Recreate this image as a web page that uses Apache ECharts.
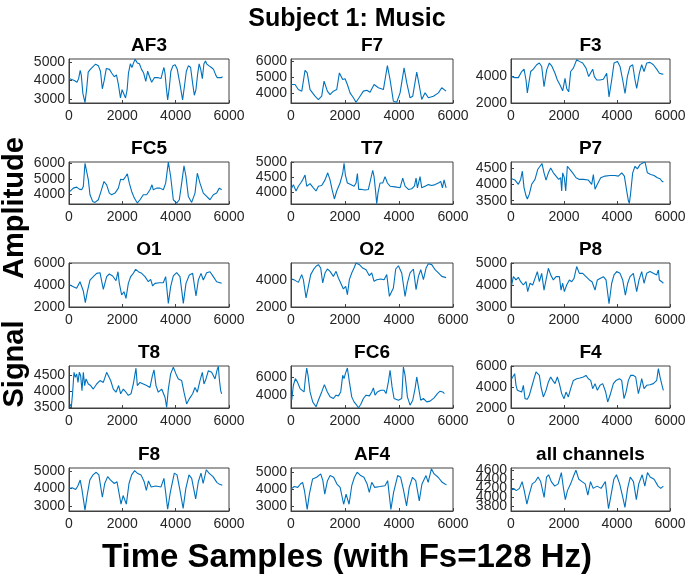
<!DOCTYPE html>
<html><head><meta charset="utf-8">
<script src="https://cdn.jsdelivr.net/npm/echarts@6/dist/echarts.min.js"></script>
<style>html,body{margin:0;padding:0;background:#fff}#c{width:694px;height:582px}</style>
</head><body><div id="c"></div>
<script>
var channelNames = ["AF3","F7","F3","FC5","T7","P7","O1","O2","P8","T8","FC6","F4","F8","AF4","all channels"];
var xTicks = [0,2000,4000,6000];

var AF3 = [[0,4100],[100,4050],[200,4000],[300,3900],[360,4100],[420,4550],[460,4300],[520,3300],[600,2800],[660,3500],[720,4450],[800,4600],[900,4750],[1000,4880],[1100,4800],[1180,4500],[1250,3550],[1320,4000],[1400,4650],[1450,4750],[1520,4600],[1600,4400],[1700,4200],[1780,4300],[1850,3800],[1930,3050],[1990,3500],[2050,3600],[2120,3050],[2180,3500],[2230,4400],[2300,4900],[2360,4700],[2420,4950],[2480,5150],[2560,4950],[2640,4900],[2720,4600],[2800,4400],[2880,3950],[2950,4500],[3020,4200],[3100,3900],[3200,4150],[3350,4150],[3450,4100],[3520,4500],[3560,4700],[3600,4400],[3650,3600],[3700,2950],[3760,3600],[3820,4500],[3900,4800],[3980,4850],[4060,4600],[4150,3900],[4260,2950],[4330,3700],[4400,4500],[4480,4800],[4560,4700],[4640,3800],[4700,3200],[4760,3500],[4820,4300],[4880,4900],[4940,4600],[5000,4100],[5060,4900],[5120,5050],[5160,4900],[5240,4800],[5340,4700],[5420,4600],[5500,4300],[5560,4150],[5620,4200],[5700,4150],[5760,4200]];
var F7 = [[0,4540],[150,4540],[270,4220],[400,4120],[520,5440],[600,5270],[705,4220],[890,3800],[1014,3590],[1137,3800],[1224,4750],[1347,4120],[1446,3900],[1570,4120],[1693,4220],[1792,5270],[1915,4850],[2002,4900],[2088,4540],[2187,4010],[2311,3700],[2409,3420],[2558,3800],[2681,4120],[2805,4180],[2928,4050],[3076,4540],[3237,4330],[3422,4220],[3570,5740],[3669,4850],[3792,3480],[3916,3420],[4040,4010],[4188,5590],[4287,4640],[4410,3700],[4509,3800],[4657,5320],[4756,4430],[4842,3590],[4966,4010],[5089,3700],[5274,3800],[5460,4010],[5583,4330],[5645,4220],[5744,4120]];
var F3 = [[26,3950],[151,3875],[277,3875],[403,4325],[491,4500],[567,3700],[617,2750],[692,3700],[743,4325],[843,4500],[969,4825],[1070,4950],[1158,4700],[1246,3200],[1347,4450],[1447,4950],[1535,4750],[1661,4200],[1749,3700],[1850,3325],[1950,2900],[2039,3825],[2101,3075],[2177,2825],[2252,4325],[2353,4575],[2479,5200],[2579,5075],[2705,4950],[2831,4575],[2932,3950],[3007,4075],[3083,4500],[3146,3950],[3234,3700],[3359,3700],[3485,3750],[3611,4200],[3699,2450],[3800,3700],[3888,4950],[4014,5075],[4114,4700],[4215,3700],[4303,2700],[4391,3950],[4492,4700],[4592,4825],[4680,3700],[4743,3075],[4844,4200],[4932,4825],[5020,4325],[5121,4950],[5246,5000],[5372,4825],[5498,4500],[5599,4200],[5687,4150],[5750,4125]];
var FC5 = [[37,4183],[162,4398],[287,4462],[387,4333],[475,4290],[537,4505],[600,6010],[662,6080],[725,4935],[787,3968],[887,3538],[975,3473],[1100,3645],[1200,4183],[1312,4828],[1412,4613],[1512,4075],[1600,3968],[1725,4075],[1850,4398],[1937,4978],[2037,4935],[2125,5150],[2187,5322],[2262,4720],[2350,4183],[2450,3753],[2562,3430],[2662,3645],[2787,3968],[2912,3968],[3037,4290],[3112,4613],[3162,4290],[3287,4398],[3412,4398],[3537,4290],[3625,4720],[3725,6080],[3812,5150],[3912,3645],[4037,3430],[4137,3645],[4225,4720],[4312,5838],[4387,5150],[4475,3860],[4600,3473],[4725,4075],[4812,5365],[4912,4720],[5037,4075],[5162,3860],[5287,3645],[5412,3968],[5537,4075],[5637,4398],[5725,4290]];
var T7 = [[0,4106],[88,4266],[186,4053],[273,4213],[359,4320],[433,4425],[520,4585],[582,4213],[705,4300],[829,4160],[927,4053],[1014,4213],[1137,4234],[1261,4425],[1360,4660],[1446,4425],[1520,4106],[1607,3787],[1693,4053],[1817,4320],[1915,4638],[1965,4980],[2014,4585],[2088,4320],[2212,4266],[2335,4213],[2409,4320],[2459,4638],[2508,4106],[2619,4106],[2743,4085],[2866,4106],[2928,4053],[3027,4745],[3076,4532],[3126,4106],[3175,3627],[3224,3999],[3298,4320],[3397,4320],[3484,4532],[3570,4320],[3669,4213],[3854,4192],[4040,4160],[4138,4480],[4225,4213],[4348,4106],[4472,4128],[4571,4213],[4632,4480],[4682,4160],[4780,4532],[4842,4160],[4966,4213],[5089,4266],[5213,4234],[5336,4266],[5460,4320],[5546,4373],[5608,4160],[5670,4425],[5744,4160]];
var P7 = [[26,4170],[151,4130],[277,4000],[365,4150],[428,4400],[491,3900],[567,3650],[617,3550],[692,3700],[780,4000],[906,4150],[1007,4450],[1095,4550],[1171,4630],[1246,4350],[1322,4130],[1410,4350],[1498,4500],[1598,4350],[1699,4250],[1799,4150],[1875,4200],[1913,3800],[1950,4350],[2013,4200],[2064,3800],[2127,4550],[2227,4450],[2328,4350],[2454,4200],[2579,4150],[2730,4150],[2919,4130],[3045,4000],[3108,4300],[3171,3850],[3259,4000],[3385,4200],[3548,4250],[3737,4270],[3925,4270],[4051,4250],[4177,4350],[4278,4250],[4366,3800],[4429,3500],[4467,3420],[4517,3750],[4592,4350],[4680,4550],[4768,4470],[4869,4600],[4970,4650],[5058,4680],[5146,4350],[5272,4300],[5397,4270],[5523,4200],[5624,4170],[5687,4100],[5750,4070]];
var O1 = [[37,4000],[162,3850],[287,3700],[412,4300],[475,4450],[537,3450],[612,2390],[687,3390],[787,4450],[912,4760],[1037,5060],[1162,5120],[1287,3610],[1412,4760],[1512,5000],[1637,4820],[1762,4390],[1837,5210],[1887,4150],[1975,3090],[2062,3390],[2137,2790],[2225,4150],[2312,4760],[2412,5060],[2500,5420],[2600,5210],[2725,5060],[2850,4760],[2975,4300],[3062,4510],[3137,3910],[3225,4150],[3387,4210],[3537,4210],[3625,4760],[3725,2330],[3812,3850],[3912,4820],[4037,5120],[4162,4760],[4287,2330],[4387,4150],[4512,4910],[4637,5060],[4762,3000],[4850,4450],[4950,5060],[5037,4450],[5162,5120],[5287,5210],[5412,4760],[5537,4300],[5662,4210],[5725,4150]];
var O2 = [[26,4050],[149,3950],[273,3800],[396,4370],[458,4000],[557,2660],[643,3510],[730,4370],[829,4730],[927,4980],[1014,5100],[1100,4850],[1174,3760],[1261,4490],[1347,4780],[1446,4610],[1570,4240],[1668,4610],[1755,4120],[1841,3760],[1940,3320],[2026,3510],[2088,2900],[2162,4000],[2249,4490],[2335,4850],[2409,5220],[2533,5100],[2656,4850],[2780,4730],[2903,4290],[2990,4490],[3076,3880],[3175,4000],[3323,4050],[3447,4000],[3546,4370],[3644,2780],[3718,2660],[3792,3390],[3879,4780],[3978,5020],[4101,4490],[4225,2780],[4311,3760],[4410,4490],[4533,4780],[4632,3270],[4719,4240],[4805,4730],[4904,4000],[5003,4850],[5089,5170],[5213,5100],[5336,4730],[5460,4490],[5583,4240],[5645,4190],[5744,4150]];
var P8 = [[26,4000],[89,4380],[189,4230],[277,4350],[365,4150],[466,4000],[567,4150],[630,3700],[718,4080],[818,4000],[906,4300],[994,4610],[1070,4150],[1158,4530],[1246,3770],[1322,4230],[1410,4760],[1498,4460],[1598,4230],[1699,4380],[1825,4380],[1888,3770],[1950,4080],[2013,3700],[2101,4000],[2202,4230],[2290,4150],[2378,4300],[2479,4840],[2579,4530],[2705,4530],[2831,4380],[2957,4230],[3057,4150],[3171,3770],[3259,4230],[3359,4300],[3485,4380],[3586,4230],[3699,3150],[3800,4080],[3888,4460],[3988,4610],[4114,4530],[4215,4230],[4316,3540],[4403,4080],[4492,4380],[4617,4530],[4743,3700],[4831,4230],[4932,4610],[5020,4080],[5121,4530],[5246,4610],[5372,4530],[5498,4460],[5561,4680],[5599,4230],[5687,4150],[5750,4080]];
var T8 = [[37,3600],[87,3490],[137,3970],[187,4600],[237,4440],[287,4550],[337,4280],[387,4600],[437,4490],[487,4020],[537,4600],[587,4180],[637,4390],[725,4230],[812,4180],[912,4070],[1037,4230],[1162,4340],[1287,4280],[1412,4600],[1475,4650],[1562,4340],[1662,4070],[1762,3970],[1862,4180],[1937,3920],[2037,4070],[2137,3970],[2225,3870],[2325,3920],[2412,4230],[2512,4730],[2562,4180],[2662,4280],[2787,4230],[2912,4180],[3037,4120],[3125,4490],[3187,4680],[3262,4180],[3350,3970],[3475,4070],[3600,3810],[3662,3490],[3725,4070],[3812,4550],[3912,4760],[4012,4550],[4100,4390],[4225,4340],[4312,3970],[4412,3600],[4512,3760],[4637,3920],[4725,4120],[4812,3970],[4912,4340],[5000,4600],[5062,4230],[5137,4390],[5225,4650],[5350,4600],[5475,4390],[5562,4700],[5600,4790],[5637,4390],[5687,4020],[5725,3920]];
var FC6 = [[26,3450],[88,5090],[162,5820],[236,5460],[335,4730],[396,4550],[483,4360],[532,5820],[582,6980],[631,6180],[705,4360],[804,3270],[927,2730],[1014,3450],[1137,4360],[1236,5160],[1347,4360],[1446,3820],[1570,3640],[1668,4000],[1755,3930],[1841,4360],[1915,6180],[1965,5820],[2014,6360],[2088,6980],[2162,5460],[2249,3820],[2335,3270],[2434,2910],[2496,2620],[2582,2980],[2681,3640],[2780,4000],[2903,3930],[2990,4360],[3052,4800],[3113,4000],[3200,4360],[3323,4550],[3447,4550],[3521,4180],[3607,5460],[3669,6730],[3743,4910],[3817,3640],[3978,3450],[4101,3640],[4163,7090],[4225,6180],[4311,3820],[4410,2910],[4509,3450],[4595,4730],[4657,6000],[4731,4730],[4805,3450],[4904,3640],[5027,3270],[5151,3350],[5299,3710],[5423,4180],[5522,4440],[5620,4360],[5682,4180]];
var F4 = [[26,4790],[89,4630],[139,5270],[189,4160],[240,3680],[315,3840],[403,3520],[466,4160],[529,2890],[617,2830],[692,3210],[780,4000],[869,4790],[944,5430],[1007,5590],[1070,5110],[1133,4000],[1221,3050],[1322,3680],[1410,4480],[1498,4950],[1573,4630],[1661,4320],[1749,4950],[1825,4320],[1913,3370],[2001,2890],[2076,3520],[2164,3050],[2252,3840],[2353,4630],[2479,4790],[2604,4860],[2730,4950],[2831,5110],[2919,4790],[3007,4630],[3083,3840],[3171,4320],[3259,3680],[3359,4160],[3460,4320],[3573,3520],[3649,2570],[3737,3210],[3863,4320],[3963,4630],[4089,4790],[4177,4630],[4265,2890],[4341,3520],[4429,4630],[4517,5110],[4617,5110],[4705,4950],[4806,3360],[4869,4000],[4932,4790],[5020,3840],[5121,4160],[5246,4220],[5372,4320],[5498,4630],[5561,5750],[5624,4950],[5699,4160],[5750,3680]];
var F8 = [[0,4000],[120,4050],[250,3950],[330,4150],[420,4500],[480,4000],[600,2750],[680,3600],[780,4500],[900,4800],[1020,4950],[1120,4800],[1250,3500],[1340,4300],[1450,4700],[1560,4500],[1700,4300],[1800,4400],[1950,3100],[2030,3600],[2150,3100],[2250,4300],[2350,4800],[2460,5050],[2560,4900],[2700,4800],[2820,4400],[2900,3900],[2980,4450],[3080,4100],[3250,4150],[3450,4100],[3560,4600],[3700,2800],[3800,3800],[3950,4900],[4050,4800],[4150,4000],[4280,2850],[4380,4000],[4500,4800],[4600,4600],[4750,3400],[4850,4400],[4950,4900],[5030,4300],[5150,5100],[5250,4900],[5400,4700],[5550,4350],[5650,4250],[5750,4200]];
var AF4 = [[0,4000],[120,4150],[250,4100],[350,4300],[430,4400],[500,3900],[600,2800],[680,3700],[800,4600],[950,4700],[1100,4900],[1180,4500],[1250,3700],[1350,4500],[1450,4800],[1580,4700],[1700,4300],[1820,4100],[1950,3100],[2040,3700],[2150,3100],[2250,4200],[2350,4700],[2450,5000],[2580,4800],[2700,4700],[2820,4300],[2900,3800],[2990,4400],[3100,4100],[3300,4150],[3480,4200],[3580,4500],[3700,2800],[3800,3800],[3950,4800],[4060,4700],[4160,4000],[4280,3000],[4380,4100],[4500,4700],[4620,4500],[4750,3300],[4850,4300],[5000,4800],[5080,4400],[5200,5200],[5300,4900],[5450,4700],[5600,4400],[5700,4300],[5760,4250]];
var ALL = [[0,4150],[100,4200],[200,4150],[320,4200],[420,4350],[500,4150],[600,3850],[680,4050],[800,4300],[920,4350],[1020,4450],[1120,4350],[1250,4000],[1340,4450],[1420,4500],[1520,4350],[1650,4250],[1780,4300],[1900,4550],[1980,4200],[2050,3950],[2130,4150],[2250,4300],[2380,4500],[2450,4600],[2560,4400],[2680,4350],[2800,4300],[2900,4050],[3000,4350],[3100,4200],[3250,4250],[3400,4200],[3560,4350],[3680,3750],[3760,4000],[3880,4400],[3980,4500],[4100,4300],[4200,4050],[4300,3780],[4400,4200],[4500,4450],[4620,4350],[4730,3950],[4820,4300],[4950,4500],[5050,4250],[5150,4550],[5250,4450],[5400,4400],[5550,4250],[5650,4200],[5750,4250]];

var seriesData = [AF3,F7,F3,FC5,T7,P7,O1,O2,P8,T8,FC6,F4,F8,AF4,ALL];
var yMin = [2780,3370,2000,3370,3620,3400,2000,2000,3000,3470,2600,2000,2700,2700,3700];
var yMax = [5160,6150,5250,6090,5020,4680,6000,5220,5000,4800,7200,6000,5200,5250,4650];
var yTicks = [[3000,4000,5000],[4000,5000,6000],[2000,4000],[4000,5000,6000],[4000,4500,5000],[3500,4000,4500],[2000,4000,6000],[2000,4000],[3000,4000,5000],[3500,4000,4500],[4000,6000],[2000,4000,6000],[3000,4000,5000],[3000,4000,5000],[3800,4000,4200,4400,4600]];

var colLeft = [69,291,511], colWidth = [160,162,159];
var rowTop = [59,162,263,366,468], rowHeight = [44,42,44,42,43];
var FONT = 'Liberation Sans, Arial, sans-serif';
var INK = '#262626';
var DENSE = 14; // panel whose y tick labels overlap, drawn manually at axis positions
function plain(v){ return String(Math.round(v)); }

var grids=[], xAxes=[], yAxes=[], series=[], graphics=[];
for (var i=0;i<15;i++){
  var r=Math.floor(i/3), c=i%3;
  grids.push({left:colLeft[c], top:rowTop[r], width:colWidth[c], height:rowHeight[r], show:true, borderColor:'#404040', borderWidth:1, backgroundColor:'#fff'});
  xAxes.push({gridIndex:i, type:'value', min:0, max:6000,
    axisLine:{show:true, onZero:false, lineStyle:{color:'#404040', width:1}},
    axisTick:{show:true, inside:true, length:3, customValues:xTicks, lineStyle:{color:'#404040'}},
    axisLabel:{show:true, customValues:xTicks, formatter:plain, hideOverlap:false, showMinLabel:true, showMaxLabel:true, fontSize:14, color:INK, fontFamily:FONT, margin:6},
    splitLine:{show:false}});
  yAxes.push({gridIndex:i, type:'value', min:yMin[i], max:yMax[i],
    axisLine:{show:true, onZero:false, lineStyle:{color:'#404040', width:1}},
    axisTick:{show:true, inside:true, length:3, customValues:yTicks[i], lineStyle:{color:'#404040'}},
    axisLabel:{show:i!==DENSE, customValues:yTicks[i], formatter:plain, hideOverlap:false, showMinLabel:true, showMaxLabel:true, fontSize:14, color:INK, fontFamily:FONT, margin:4},
    splitLine:{show:false}});
  series.push({type:'line', xAxisIndex:i, yAxisIndex:i, data:seriesData[i], showSymbol:false, symbol:'none',
    lineStyle:{color:'#0072BD', width:1.1}, animation:false, clip:true});
  graphics.push({type:'text', x:colLeft[c]+colWidth[c]/2, y:rowTop[r]-13,
    style:{text:channelNames[i], fontSize:19, fontWeight:'bold', fontFamily:FONT, fill:'#000', align:'center', verticalAlign:'middle', textAlign:'center', textVerticalAlign:'middle'}});
}
graphics.push({type:'text', x:347, y:19, style:{text:'Subject 1: Music', fontSize:25, fontWeight:'bold', fontFamily:FONT, fill:'#000', align:'center', verticalAlign:'middle', textAlign:'center', textVerticalAlign:'middle'}});
graphics.push({type:'text', x:347, y:558, style:{text:'Time Samples (with Fs=128 Hz)', fontSize:33, fontWeight:'bold', fontFamily:FONT, fill:'#000', align:'center', verticalAlign:'middle', textAlign:'center', textVerticalAlign:'middle'}});
graphics.push({type:'text', x:15, y:208, rotation:Math.PI/2, style:{text:'Amplitude', fontSize:29, fontWeight:'bold', fontFamily:FONT, fill:'#000', align:'center', verticalAlign:'middle', textAlign:'center', textVerticalAlign:'middle'}});
graphics.push({type:'text', x:15, y:364, rotation:Math.PI/2, style:{text:'Signal', fontSize:29, fontWeight:'bold', fontFamily:FONT, fill:'#000', align:'center', verticalAlign:'middle', textAlign:'center', textVerticalAlign:'middle'}});

var chart = echarts.init(document.getElementById('c'), null, {renderer:'canvas'});
chart.setOption({animation:false, backgroundColor:'#fff', grid:grids, xAxis:xAxes, yAxis:yAxes, series:series, graphic:{elements:graphics}});

// overlapping tick labels of the dense panel, placed through the axis scale
var dc = DENSE % 3;
var extra = yTicks[DENSE].map(function(v){
  var py = chart.convertToPixel({yAxisIndex:DENSE}, v);
  return {type:'text', x:colLeft[dc]-4, y:py,
    style:{text:plain(v), fontSize:14, fontFamily:FONT, fill:INK, align:'right', verticalAlign:'middle', textAlign:'right', textVerticalAlign:'middle'}};
});
chart.setOption({graphic:{elements:graphics.concat(extra)}}, {replaceMerge:['graphic']});
</script></body></html>
